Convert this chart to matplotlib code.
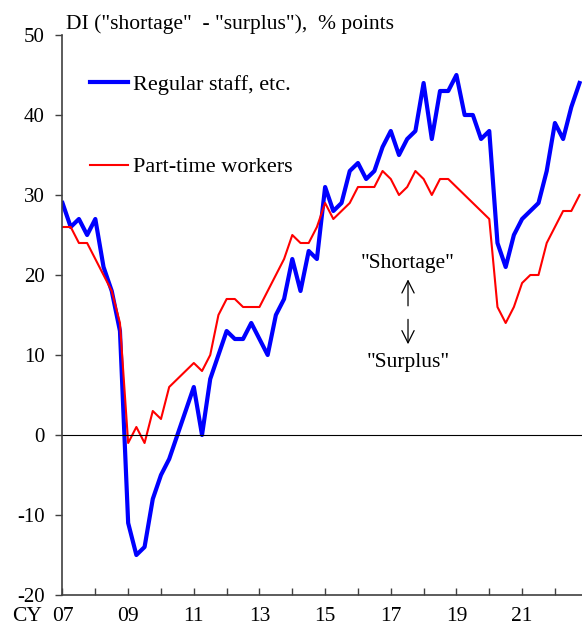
import numpy as np
import matplotlib
matplotlib.use('Agg')
import matplotlib.pyplot as plt

plt.rcParams['font.family'] = ['Liberation Serif', 'DejaVu Serif']
plt.rcParams['axes.unicode_minus'] = False

# quarterly, 2007Q1 .. 2022Q4
regular = [29, 26, 27, 25, 27, 21, 18, 13,
           -11, -15, -14, -8, -5, -3, 0, 3,
           6, 0, 7, 10, 13, 12, 12, 14,
           12, 10, 15, 17, 22, 18, 23, 22,
           31, 28, 29, 33, 34, 32, 33, 36,
           38, 35, 37, 38, 44, 37, 43, 43,
           45, 40, 40, 37, 38, 24, 21, 25,
           27, 28, 29, 33, 39, 37, 41, 44]
parttime = [26, 26, 24, 24, 22, 20, 18, 14,
            -1, 1, -1, 3, 2, 6, 7, 8,
            9, 8, 10, 15, 17, 17, 16, 16,
            16, 18, 20, 22, 25, 24, 24, 26,
            29, 27, 28, 29, 31, 31, 31, 33,
            32, 30, 31, 33, 32, 30, 32, 32,
            31, 30, 29, 28, 27, 16, 14, 16,
            19, 20, 20, 24, 26, 28, 28, 30]
year_labels = ['07', '', '09', '', '11', '', '13', '', '15', '', '17', '', '19', '', '21', '']

x = np.arange(len(regular))
fs = 15.5

fig = plt.figure(figsize=(5.82, 6.32), dpi=100)
ax = fig.add_axes([62.5/582, 37/632, 1 - 62.5/582, 560/632])

ax.plot(x, regular, color='#0000ff', lw=3.0, label='Regular staff, etc.')
ax.plot(x, parttime, color='#ff0000', lw=1.5, label='Part-time workers')
ax.axhline(0, color='black', lw=0.8)

ax.set_xlim(0, 63.3)
ax.set_ylim(-20, 50)
ax.set_yticks(np.arange(-20, 51, 10))
ax.set_xticks(np.arange(0, 64, 4))
ax.set_xticklabels(year_labels)
ax.annotate('CY', xy=(0, 0), xycoords=('data', 'axes fraction'), xytext=(-15, -8.5),
            textcoords='offset points', ha='right', va='top', fontsize=fs)

for s in ['top', 'right']:
    ax.spines[s].set_visible(False)
for s in ['left', 'bottom']:
    ax.spines[s].set_color('#404040')
    ax.spines[s].set_linewidth(1.2)
ax.tick_params(axis='y', direction='out', length=5, width=1, color='#404040', pad=8, labelsize=15)
ax.tick_params(axis='x', direction='in', length=5, width=1, color='#404040', pad=8.5, labelsize=fs)

fig.text(66/582, 1 - 24/632, 'DI ("shortage"  - "surplus"),  % points', fontsize=fs, va='center', ha='left')

leg = ax.legend(loc='upper left', bbox_to_anchor=(90/582, 1 - 74/632), bbox_transform=fig.transFigure,
                frameon=False, fontsize=16, handlelength=1.7, handletextpad=0.25,
                labelspacing=2.8, borderpad=0, borderaxespad=0)

ax.text(42.1, 21.4, '"Shortage"', ha='center', va='center', fontsize=fs)
ax.text(42.1, 9.0, '"Surplus"', ha='center', va='center', fontsize=fs)
ax.annotate('', xy=(42.1, 19.8), xytext=(42.1, 15.8),
            arrowprops=dict(arrowstyle='->', color='black', lw=0.9, mutation_scale=22))
ax.annotate('', xy=(42.1, 11.0), xytext=(42.1, 14.8),
            arrowprops=dict(arrowstyle='->', color='black', lw=0.9, mutation_scale=22))

fig.savefig('out.png', dpi=100)
